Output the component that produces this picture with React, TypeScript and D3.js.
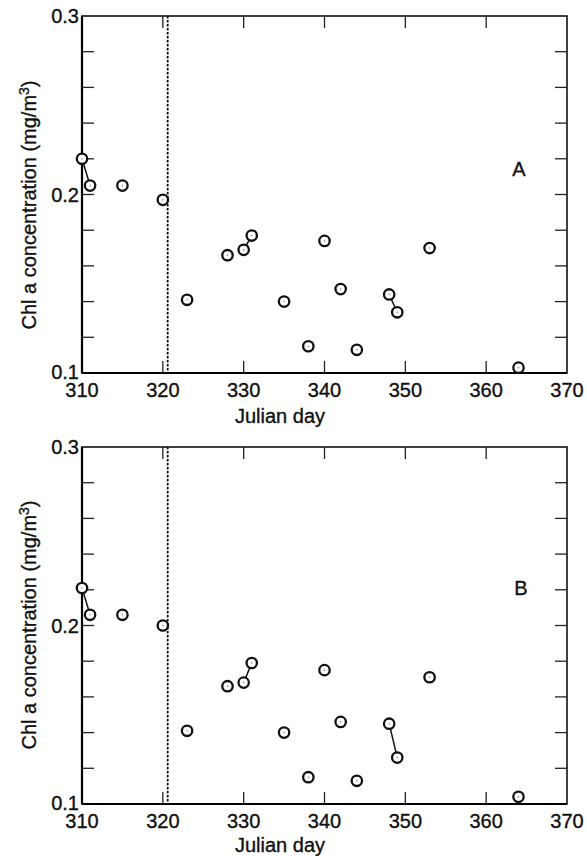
import React from "react";
import * as d3 from "d3";

const days = [310, 311, 315, 320, 323, 328, 330, 331, 335, 338, 340, 342, 344, 348, 349, 353, 364];
const chlA = [0.220, 0.205, 0.205, 0.197, 0.141, 0.166, 0.169, 0.177, 0.140, 0.115, 0.174, 0.147, 0.113, 0.144, 0.134, 0.170, 0.103];
const chlB = [0.221, 0.206, 0.206, 0.200, 0.141, 0.166, 0.168, 0.179, 0.140, 0.115, 0.175, 0.146, 0.113, 0.145, 0.126, 0.171, 0.104];
const linkedPairs = [[310, 311], [330, 331], [348, 349]];
const xTicks = [310, 320, 330, 340, 350, 360, 370];
const yMajorTicks = [0.1, 0.2, 0.3];
const yMinorTicks = [0.12, 0.14, 0.16, 0.18, 0.22, 0.24, 0.26, 0.28];
const markerDay = 320.6;
const panelLabels = ["A", "B"];

const W = 587;
const H = 856;
const left = 82;
const right = 567;
const font = "'Liberation Sans', Arial, Helvetica, sans-serif";
const textStroke = { stroke: "#111", strokeWidth: 0.35 };

function Panel({ top, bottom, values, label, labelPos, yLabelCenter, xLabelY }) {
  const x = d3.scaleLinear().domain([310, 370]).range([left, right]);
  const y = d3.scaleLinear().domain([0.1, 0.3]).range([bottom, top]);
  const pts = days.map((d, i) => ({ d, v: values[i] }));
  const line = d3.line<any>().x((p) => x(p.d)).y((p) => y(p.v));
  const tick = 12;
  return (
    <g>
      <rect x={left} y={top} width={right - left} height={bottom - top} fill="none" stroke="#111" strokeWidth={1.6} />
      <line x1={left} x2={left} y1={top} y2={bottom} stroke="#000" strokeWidth={2.2} />
      <line x1={left} x2={right} y1={bottom} y2={bottom} stroke="#000" strokeWidth={2.2} />
      {xTicks.slice(1, -1).map((t) => (
        <g key={"xt" + t}>
          <line x1={x(t)} x2={x(t)} y1={bottom} y2={bottom - tick} stroke="#222" strokeWidth={1.3} />
          <line x1={x(t)} x2={x(t)} y1={top} y2={top + tick} stroke="#222" strokeWidth={1.3} />
        </g>
      ))}
      {xTicks.map((t) => (
        <text key={"xl" + t} x={x(t)} y={bottom + 24} textAnchor="middle" fontSize={20} fontFamily={font} fill="#111" {...textStroke}>
          {t}
        </text>
      ))}
      {yMinorTicks.concat(yMajorTicks.slice(1, -1)).map((t) => (
        <g key={"yt" + t}>
          <line x1={left} x2={left + tick} y1={y(t)} y2={y(t)} stroke="#222" strokeWidth={1.3} />
          <line x1={right} x2={right - tick} y1={y(t)} y2={y(t)} stroke="#222" strokeWidth={1.3} />
        </g>
      ))}
      {yMajorTicks.map((t) => (
        <text key={"yl" + t} x={left - 3} y={y(t)} dy={t === 0.1 ? "0.28em" : "0.36em"} textAnchor="end" fontSize={20} fontFamily={font} fill="#111" {...textStroke}>
          {t.toFixed(1)}
        </text>
      ))}
      <line x1={x(markerDay)} x2={x(markerDay)} y1={top} y2={bottom} stroke="#111" strokeWidth={1.8} strokeDasharray="2.5,1.5" />
      {linkedPairs.map((pr) => {
        const seg = pts.filter((p) => pr.includes(p.d));
        return <path key={"lp" + pr[0]} d={line(seg) || ""} fill="none" stroke="#111" strokeWidth={1.5} />;
      })}
      {pts.map((p) => (
        <g key={"pt" + p.d}>
          <circle cx={x(p.d)} cy={y(p.v)} r={5.2} fill="#fff" stroke="#111" strokeWidth={2.3} />
          <circle cx={x(p.d)} cy={y(p.v)} r={0.8} fill="#888" />
        </g>
      ))}
      <text x={labelPos[0]} y={labelPos[1]} textAnchor="middle" fontSize={20} fontFamily={font} fill="#111" {...textStroke}>
        {label}
      </text>
      <text x={280} y={xLabelY} textAnchor="middle" fontSize={20} fontFamily={font} fill="#111" {...textStroke}>
        Julian day
      </text>
      <text
        transform={`translate(36, ${yLabelCenter}) rotate(-90)`}
        textAnchor="middle"
        fontSize={20}
        fontFamily={font}
        fill="#111"
        {...textStroke}
      >
        Chl a concentration (mg/m<tspan dy={-7} fontSize={14}>3</tspan>
        <tspan dy={7}>)</tspan>
      </text>
    </g>
  );
}

export default function App() {
  return (
    <div style={{ position: "absolute", left: 0, top: 0 }}>
      <svg width={W} height={H} style={{ display: "block", background: "#fff" }}>
        <Panel top={16} bottom={373} values={chlA} label={panelLabels[0]} labelPos={[519, 176]} yLabelCenter={205} xLabelY={423} />
        <Panel top={447} bottom={804} values={chlB} label={panelLabels[1]} labelPos={[521, 595]} yLabelCenter={625} xLabelY={852} />
      </svg>
    </div>
  );
}
